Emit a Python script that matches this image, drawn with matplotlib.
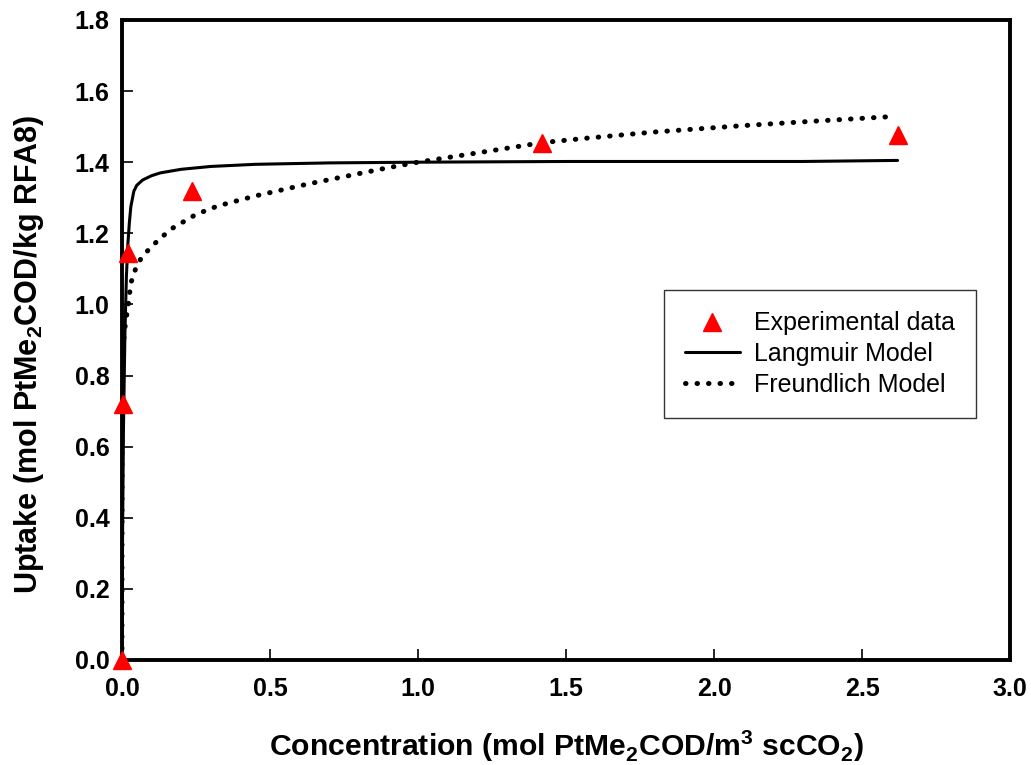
import matplotlib
matplotlib.use("Agg")
import matplotlib.pyplot as plt

plt.rcParams['font.family'] = ['Liberation Sans', 'DejaVu Sans']

# experimental data
exp_c = [0.0, 0.002, 0.02, 0.237, 1.42, 2.62]
exp_q = [0.0, 0.72, 1.145, 1.318, 1.455, 1.477]

# Langmuir model curve
lang_c = [0.0, 0.002, 0.005, 0.01, 0.015, 0.02, 0.025, 0.03, 0.04, 0.05, 0.07,
          0.1, 0.13, 0.2, 0.3, 0.45, 0.7, 1.0, 1.5, 2.0, 2.3, 2.62]
lang_q = [0.0, 0.35, 0.65, 0.92, 1.08, 1.17, 1.23, 1.275, 1.318, 1.335, 1.35,
          1.362, 1.37, 1.38, 1.388, 1.394, 1.398, 1.400, 1.402, 1.402, 1.402, 1.405]

# Freundlich model curve
freu_c = [0.0, 0.0001, 0.0005, 0.002, 0.006, 0.012, 0.02, 0.03, 0.046, 0.066,
          0.1, 0.135, 0.172, 0.213, 0.25, 0.324, 0.45, 0.63, 0.89, 1.0,
          1.23, 1.42, 1.575, 1.8, 2.1, 2.35, 2.595]
freu_q = [0.0, 0.62, 0.72, 0.82, 0.9, 0.95, 0.99, 1.06, 1.10, 1.132,
          1.163, 1.19, 1.215, 1.235, 1.253, 1.277, 1.305, 1.339, 1.383, 1.40,
          1.43, 1.455, 1.468, 1.485, 1.503, 1.516, 1.528]

fig = plt.figure(figsize=(10.31, 7.65), dpi=100)
ax = fig.add_axes([0.1183, 0.1373, 0.8614, 0.8366])

ax.plot(lang_c, lang_q, color='black', lw=2.2, solid_capstyle='round',
        label='Langmuir Model')
ax.plot(freu_c, freu_q, color='black', lw=3.6, linestyle=(0, (0.1, 2.2)),
        dash_capstyle='round', label='Freundlich Model')
ax.plot(exp_c, exp_q, linestyle='none', marker='^', ms=13, color='#ff0000',
        mec='#ff0000', clip_on=False, zorder=5, label='Experimental data')

ax.set_xlim(0, 3.0)
ax.set_ylim(0, 1.8)
ax.set_xticks([0.0, 0.5, 1.0, 1.5, 2.0, 2.5, 3.0])
ax.set_yticks([0.0, 0.2, 0.4, 0.6, 0.8, 1.0, 1.2, 1.4, 1.6, 1.8])
ax.set_xticklabels(['0.0', '0.5', '1.0', '1.5', '2.0', '2.5', '3.0'])
ax.set_yticklabels(['0.0', '0.2', '0.4', '0.6', '0.8', '1.0', '1.2', '1.4', '1.6', '1.8'])
ax.tick_params(direction='in', length=8, width=1.2, labelsize=18)
ax.tick_params(axis='x', pad=12)
ax.tick_params(axis='y', pad=9)
for lab in ax.get_xticklabels() + ax.get_yticklabels():
    lab.set_fontweight('bold')
for sp in ax.spines.values():
    sp.set_linewidth(2.8)

ax.set_xlabel(r'Concentration (mol PtMe$_\mathregular{2}$COD/m$^\mathregular{3}$ scCO$_\mathregular{2}$)',
              fontsize=21.7, fontweight='bold', labelpad=20)
ax.set_ylabel(r'Uptake (mol PtMe$_\mathregular{2}$COD/kg RFA8)',
              fontsize=22, fontweight='bold')
ax.yaxis.set_label_coords(-0.086, 0.478)

handles, labels = ax.get_legend_handles_labels()
order = [2, 0, 1]
leg = ax.legend([handles[i] for i in order], [labels[i] for i in order],
                loc='upper left', bbox_to_anchor=(0.610, 0.578), fontsize=18,
                frameon=True, fancybox=False, edgecolor='black',
                handlelength=2.2, handletextpad=0.55, borderpad=0.85,
                labelspacing=0.27, borderaxespad=0.0, markerscale=1.0)
leg.get_frame().set_linewidth(1.0)

fig.savefig('out.png', dpi=100)
